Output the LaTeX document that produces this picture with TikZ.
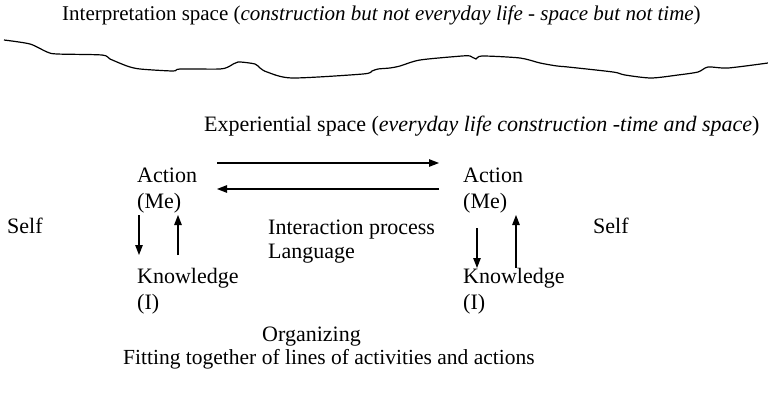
\documentclass[tikz,border=0pt]{standalone}
\usepackage{fontspec}
\setmainfont{Liberation Serif}
\usetikzlibrary{arrows.meta}
\begin{document}
\begin{tikzpicture}[x=1pt,y=-1pt,
  txt/.style={anchor=base west,inner sep=0pt,font=\fontsize{22}{26}\selectfont},
  arr/.style={line width=1.2pt,-{Triangle[length=10pt,width=7.5pt]}}]
\useasboundingbox (0,0) rectangle (768,396);
\node[txt,font=\fontsize{21}{26}\selectfont] (interp) at (62,21) {Interpretation space (\textit{construction but not everyday life - space but not time})};
\draw[line width=1.2pt] plot[smooth,tension=0.45] coordinates {(4,40) (30,44) (47,52) (57,54) (102,55) (110,59) (127,66) (140,69) (173,71) (180,69) (220,69) (230,66) (238,62) (255,64) (260,68) (267,72) (292,78) (363,74) (372,71) (378,69) (390,68) (400,66) (420,60) (462,56) (470,56) (476,59) (482,56) (520,58) (540,63) (557,66) (568,67) (613,72) (625,75) (651,78) (678,75) (698,72) (708,67) (728,68) (768,63)};
\node[txt] (exp) at (204,131) {Experiential space (\textit{everyday life construction -time and space})};
\node[txt] (la) at (137,182) {Action};
\node[txt] (lme) at (137,208) {(Me)};
\node[txt] (lk) at (137,283) {Knowledge};
\node[txt] (li) at (137,309) {(I)};
\node[txt] (ra) at (463,182) {Action};
\node[txt] (rme) at (463,208) {(Me)};
\node[txt] (rk) at (463,283) {Knowledge};
\node[txt] (ri) at (463,309) {(I)};
\node[txt] (lself) at (7,233) {Self};
\node[txt] (rself) at (593,233) {Self};
\node[txt] (ip) at (268,234) {Interaction process};
\node[txt] (lang) at (268,258) {Language};
\node[txt] (org) at (262,341) {Organizing};
\node[txt,font=\fontsize{21.5}{26}\selectfont] (fit) at (123,364) {Fitting together of lines of activities and actions};
\coordinate (t1) at (217,163); \coordinate (t2) at (439,163);
\coordinate (b1) at (439,189); \coordinate (b2) at (217,189);
\coordinate (ld1) at (139,215); \coordinate (ld2) at (139,255);
\coordinate (lu1) at (178,255); \coordinate (lu2) at (178,215);
\coordinate (rd1) at (477,228); \coordinate (rd2) at (477,268);
\coordinate (ru1) at (516,268); \coordinate (ru2) at (516,215);
\draw[arr] (t1) -- (t2);
\draw[arr] (b1) -- (b2);
\draw[arr] (ld1) -- (ld2);
\draw[arr] (lu1) -- (lu2);
\draw[arr] (rd1) -- (rd2);
\draw[arr] (ru1) -- (ru2);
\end{tikzpicture}
\end{document}
